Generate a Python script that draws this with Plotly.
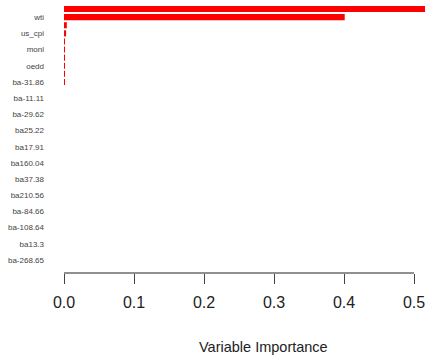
import plotly.graph_objects as go

# Variables from top (most important) to bottom; only every other name is printed in the chart
labelled_names = ["wti", "us_cpi", "monl", "oedd", "ba-31.86", "ba-11.11", "ba-29.62", "ba25.22",
                  "ba17.91", "ba160.04", "ba37.38", "ba210.56", "ba-84.66", "ba-108.64", "ba13.3", "ba-268.65"]
# relative influence, top to bottom (32 bars)
importance = [0.52, 0.401, 0.004, 0.003, 0.0006, 0.0006, 0.0006, 0.0006, 0.0006, 0.0006,
              0, 0, 0, 0, 0, 0, 0, 0, 0, 0, 0, 0, 0, 0, 0, 0, 0, 0, 0, 0, 0, 0]
x_ticks = [0.0, 0.1, 0.2, 0.3, 0.4, 0.5]

n = len(importance)
ypos = [n - i for i in range(n)]            # top bar at n, bottom at 1
label_pos = [n - (2 * k + 1) for k in range(len(labelled_names))]

FONT = "Liberation Sans, Arial, sans-serif"

fig = go.Figure(go.Bar(
    x=importance, y=ypos, orientation="h",
    marker=dict(color="#ff0000", line=dict(width=0)),
    width=0.75, hoverinfo="skip",
))

fig.update_layout(
    width=425, height=358,
    margin=dict(l=64, r=0, t=5, b=85, autoexpand=False),
    plot_bgcolor="white", paper_bgcolor="white",
    showlegend=False,
    font=dict(family=FONT, color="#222222"),
    xaxis=dict(range=[0, 0.5157], tickvals=x_ticks, ticktext=[f"{v:.1f}" for v in x_ticks],
               showgrid=False, zeroline=False, showline=False, automargin=False,
               ticks="outside", ticklen=10, tickwidth=1, tickcolor="#444444",
               ticklabeloverflow="allow",
               tickfont=dict(size=16, color="#222222"), ticklabelstandoff=5),
    yaxis=dict(range=[-0.6, n + 0.5], tickvals=label_pos, ticktext=labelled_names,
               showgrid=False, zeroline=False, showline=False, ticks="", automargin=False,
               tickfont=dict(size=8, color="#444444"), ticklabelstandoff=19),
    shapes=[dict(type="line", xref="x", yref="paper", x0=x_ticks[0], x1=x_ticks[-1], y0=0, y1=0,
                 line=dict(color="#222222", width=1.2))],
    annotations=[dict(text="Variable Importance", xref="paper", yref="paper", x=0.554, y=0,
                      yanchor="middle", yshift=-74, showarrow=False,
                      font=dict(size=14.5, color="#222222"))],
)

fig.write_html("out.html", config={"displayModeBar": False},
               post_script="document.body.style.margin='0px';document.body.style.overflow='hidden';")
